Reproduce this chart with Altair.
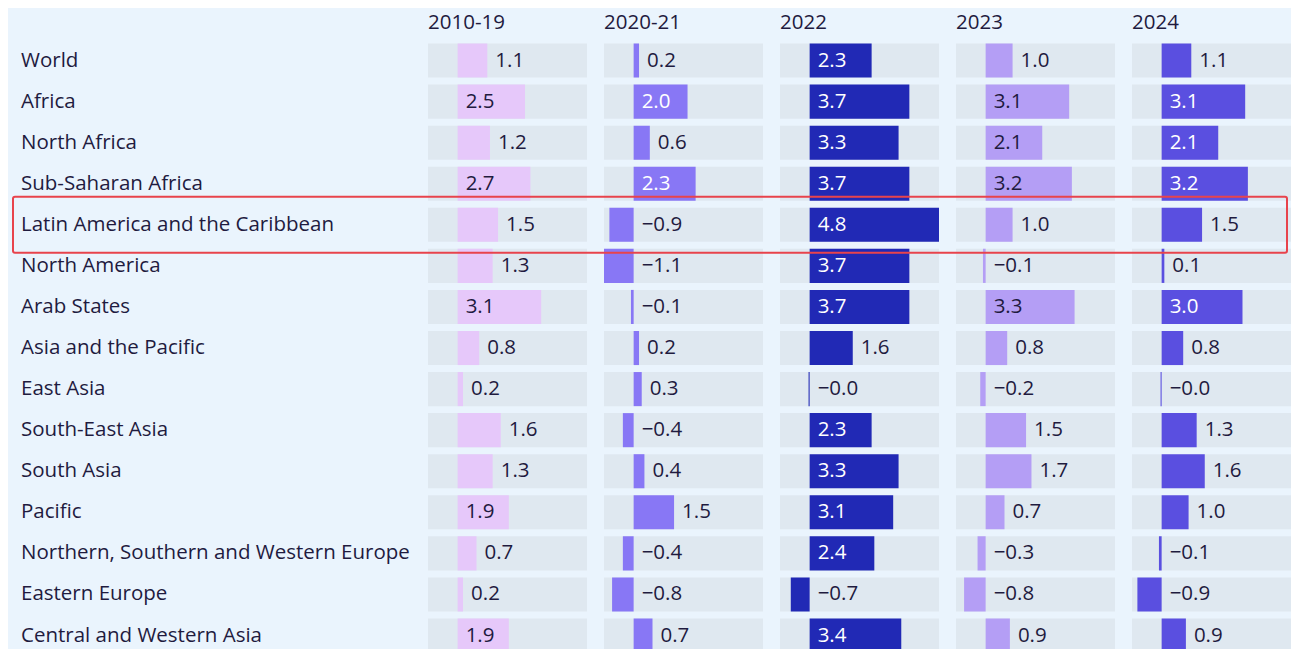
import altair as alt
import pandas as pd

regions = [
    "World", "Africa", "North Africa", "Sub-Saharan Africa",
    "Latin America and the Caribbean", "North America", "Arab States",
    "Asia and the Pacific", "East Asia", "South-East Asia", "South Asia",
    "Pacific", "Northern, Southern and Western Europe", "Eastern Europe",
    "Central and Western Asia",
]
periods = ["2010-19", "2020-21", "2022", "2023", "2024"]

v_2010_19 = [1.1, 2.5, 1.2, 2.7, 1.5, 1.3, 3.1, 0.8, 0.2, 1.6, 1.3, 1.9, 0.7, 0.2, 1.9]
v_2020_21 = [0.2, 2.0, 0.6, 2.3, -0.9, -1.1, -0.1, 0.2, 0.3, -0.4, 0.4, 1.5, -0.4, -0.8, 0.7]
v_2022 = [2.3, 3.7, 3.3, 3.7, 4.8, 3.7, 3.7, 1.6, -0.04, 2.3, 3.3, 3.1, 2.4, -0.7, 3.4]
v_2023 = [1.0, 3.1, 2.1, 3.2, 1.0, -0.1, 3.3, 0.8, -0.2, 1.5, 1.7, 0.7, -0.3, -0.8, 0.9]
v_2024 = [1.1, 3.1, 2.1, 3.2, 1.5, 0.1, 3.0, 0.8, -0.04, 1.3, 1.6, 1.0, -0.1, -0.9, 0.9]
series = [v_2010_19, v_2020_21, v_2022, v_2023, v_2024]

highlight = "Latin America and the Caribbean"

bar_colors = ["#e6c8fa", "#8877f5", "#2129b5", "#b49ef5", "#5a4fe0"]
inside_text = ["#1f1b3f", "#ffffff", "#ffffff", "#1f1b3f", "#ffffff"]
TEXT = "#1f1b3f"
BAND = "#dfe8f0"
BG = "#eaf4fd"
FONT = "Open Sans"
FS = 20.5

all_vals = [v for s in series for v in s]
xmin, xmax = min(all_vals), max(all_vals)

STEP = 41.07
RANGE_H = STEP * len(regions)
TOP = 31.5
H = 641 - TOP
W = 159
LABEL_W = 403
SP = 17

yscale = alt.Scale(domain=regions, range=[0, RANGE_H], paddingInner=0.17, paddingOuter=0.085)
Y = alt.Y("region:N", scale=yscale, axis=None)


def fmt(v):
    return f"{v:.1f}".replace("-", "\u2212")


def panel(i):
    df = pd.DataFrame({
        "region": regions,
        "value": series[i],
        "label": [fmt(v) for v in series[i]],
    })
    xs = alt.Scale(domain=[xmin, xmax], nice=False, zero=False)
    base = alt.Chart(df)
    band = base.mark_rect(color=BAND, clip=True).encode(
        x=alt.value(0), x2=alt.value(W), y=Y
    )
    bars = base.mark_bar(color=bar_colors[i], clip=True).encode(
        x=alt.X("value:Q", scale=xs, axis=None),
        x2=alt.datum(0),
        y=Y,
    )
    txt = base.transform_calculate(
        inside="datum.value >= 1.8",
        lx="datum.value >= 1.8 ? 0 : max(datum.value, 0)",
    ).mark_text(align="left", baseline="middle", dx=8, fontSize=FS, font=FONT, clip=True).encode(
        x=alt.X("lx:Q", scale=xs, axis=None),
        y=Y,
        text="label:N",
        color=alt.condition("datum.inside", alt.value(inside_text[i]), alt.value(TEXT)),
    )
    head = alt.Chart(pd.DataFrame({"h": [periods[i]]})).mark_text(
        align="left", baseline="middle", fontSize=FS, font=FONT, color=TEXT
    ).encode(x=alt.value(0), y=alt.value(-17.5), text="h:N")
    layers = [band, bars, txt, head]
    if i == len(periods) - 1:
        left = -(LABEL_W + 4 * (W + SP) + SP) + 5
        hl = alt.Chart(pd.DataFrame({"region": [highlight]})).mark_bar(
            fill=None, stroke="#e8434c", strokeWidth=2, size=56, cornerRadius=2,
        ).encode(
            x=alt.value(left), x2=alt.value(155),
            y=Y,
        )
        layers.append(hl)
    return alt.layer(*layers).properties(width=W, height=H)


labels_df = pd.DataFrame({"region": regions})
label_text = alt.Chart(labels_df).mark_text(
    align="left", baseline="middle", fontSize=FS, font=FONT, color=TEXT, clip=True
).encode(
    x=alt.value(13),
    y=Y,
    text="region:N",
)
spacer = alt.Chart(pd.DataFrame({"a": [0]})).mark_rect(opacity=0).encode(
    x=alt.value(0), x2=alt.value(1), y=alt.value(-TOP), y2=alt.value(0)
)
label_panel = alt.layer(label_text, spacer).properties(width=LABEL_W, height=H)

chart = alt.hconcat(
    label_panel, *[panel(i) for i in range(len(periods))], spacing=SP, bounds="flush"
).properties(
    background=BG,
    padding={"left": 0, "top": 0, "right": 0, "bottom": 0},
).configure_view(stroke=None).resolve_scale(x="independent", y="shared")

chart.save("out.html", embed_options={"renderer": "svg", "actions": False})
